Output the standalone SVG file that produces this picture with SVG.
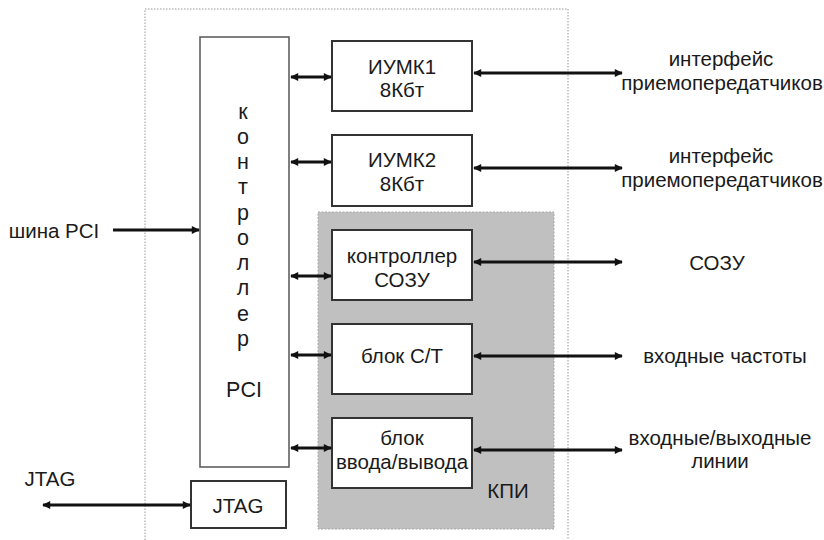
<svg xmlns="http://www.w3.org/2000/svg" width="824" height="540" viewBox="0 0 824 540">
<style>
text{font-family:"Liberation Sans",Arial,sans-serif;font-size:20.5px;fill:#1a1a1a;text-anchor:middle}
.v{font-size:21.5px}
.box{fill:#fff;stroke:#333;stroke-width:2}
.c{stroke:#111;stroke-width:3;fill:none}
</style>
<defs>
<marker id="ah" viewBox="0 0 10 10" refX="9" refY="5" markerWidth="10" markerHeight="8" markerUnits="userSpaceOnUse" orient="auto-start-reverse">
<path d="M0,0 L10,5 L0,10 z" fill="#111"/>
</marker>
</defs>
<rect x="0" y="0" width="824" height="540" fill="#fff"/>
<g id="frame"><rect x="145" y="9" width="423" height="540" fill="none" stroke="#999" stroke-width="1" stroke-dasharray="1.5,1.5"/></g>
<g id="kpi"><rect x="318" y="212" width="236" height="317" fill="#c0c0c0" stroke="#a8a8a8" stroke-width="1" stroke-dasharray="2,1.5"/><text x="508" y="498">КПИ</text></g>
<g id="ctrl"><rect x="200" y="37" width="89" height="430" fill="#fff" stroke="#555" stroke-width="1.5"/>
<text class="v" x="243" y="119">к</text><text class="v" x="243" y="144">о</text><text class="v" x="243" y="169">н</text><text class="v" x="243" y="194">т</text><text class="v" x="243" y="220">р</text><text class="v" x="243" y="245">о</text><text class="v" x="243" y="270">л</text><text class="v" x="243" y="295">л</text><text class="v" x="243" y="321">е</text><text class="v" x="243" y="346">р</text><text class="v" x="244" y="397">PCI</text></g>
<g id="iumk1"><rect class="box" x="332" y="41" width="140" height="70"/><text x="402" y="74">ИУМК1</text><text x="402" y="97">8Кбт</text></g>
<g id="iumk2"><rect class="box" x="332" y="135" width="140" height="71"/><text x="402" y="167">ИУМК2</text><text x="402" y="191">8Кбт</text></g>
<g id="sozu"><rect class="box" x="332" y="230" width="140" height="70"/><text x="402" y="263">контроллер</text><text x="402" y="287">СОЗУ</text></g>
<g id="ct"><rect class="box" x="332" y="324" width="140" height="70"/><text x="402" y="363">блок С/Т</text></g>
<g id="io"><rect class="box" x="332" y="418" width="140" height="70"/><text x="402" y="445">блок</text><text x="402" y="469">ввода/вывода</text></g>
<g id="jtag"><rect class="box" x="191" y="481" width="95" height="47"/><text x="238" y="513">JTAG</text></g>
<g id="labels">
<text x="54" y="238">шина PCI</text>
<text x="50" y="486">JTAG</text>
<text x="721" y="66">интерфейс</text><text x="722" y="90">приемопередатчиков</text>
<text x="721" y="163">интерфейс</text><text x="722" y="187">приемопередатчиков</text>
<text x="717" y="270">СОЗУ</text>
<text x="725" y="363">входные частоты</text>
<text x="720" y="445">входные/выходные</text><text x="720" y="468">линии</text>
</g>
<g id="connectors">
<line class="c" x1="113" y1="230" x2="199" y2="230" marker-end="url(#ah)"/>
<line class="c" x1="43" y1="505" x2="190" y2="505" marker-start="url(#ah)" marker-end="url(#ah)"/>
<line class="c" x1="291" y1="77" x2="331" y2="77" marker-start="url(#ah)" marker-end="url(#ah)"/>
<line class="c" x1="291" y1="162" x2="331" y2="162" marker-start="url(#ah)" marker-end="url(#ah)"/>
<line class="c" x1="291" y1="276" x2="331" y2="276" marker-start="url(#ah)" marker-end="url(#ah)"/>
<line class="c" x1="291" y1="355" x2="331" y2="355" marker-start="url(#ah)" marker-end="url(#ah)"/>
<line class="c" x1="291" y1="448" x2="331" y2="448" marker-start="url(#ah)" marker-end="url(#ah)"/>
<line class="c" x1="474" y1="73" x2="622" y2="73" marker-start="url(#ah)" marker-end="url(#ah)"/>
<line class="c" x1="474" y1="168" x2="622" y2="168" marker-start="url(#ah)" marker-end="url(#ah)"/>
<line class="c" x1="474" y1="262" x2="622" y2="262" marker-start="url(#ah)" marker-end="url(#ah)"/>
<line class="c" x1="474" y1="356" x2="622" y2="356" marker-start="url(#ah)" marker-end="url(#ah)"/>
<line class="c" x1="474" y1="450" x2="622" y2="450" marker-start="url(#ah)" marker-end="url(#ah)"/>
</g>
</svg>
